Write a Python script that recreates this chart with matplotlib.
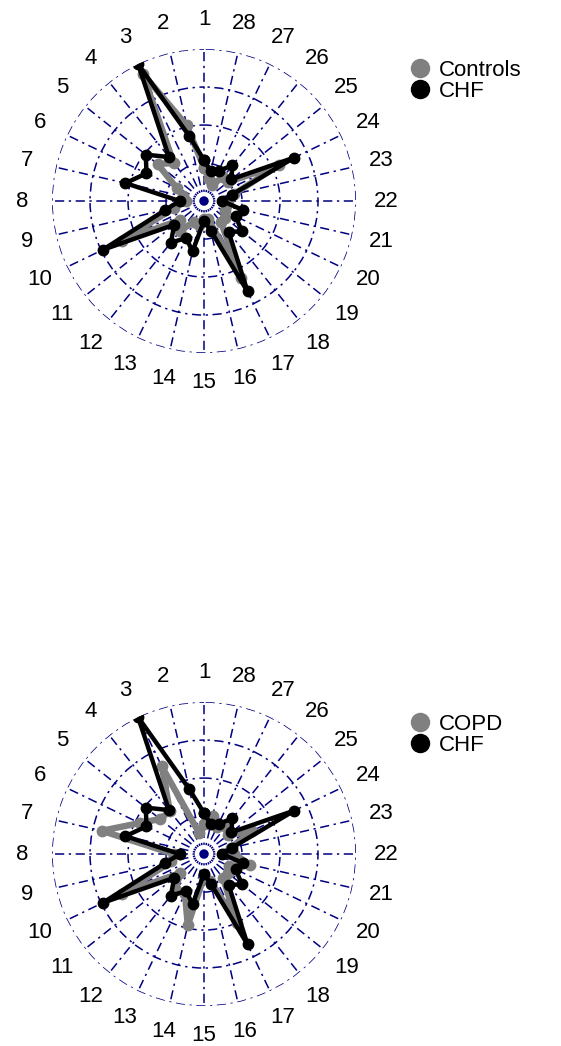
import numpy as np
import matplotlib; matplotlib.use('Agg')
import matplotlib.pyplot as plt

plt.rcParams['font.family'] = ['Liberation Sans', 'DejaVu Sans']

# ---- data ----
labels = [str(i) for i in range(1, 29)]
chf = [0.27, 0.44, 1.00, 0.37, 0.49, 0.42, 0.53, 0.16, 0.26, 0.74, 0.25, 0.35, 0.27, 0.34,
       0.13, 0.20, 0.66, 0.26, 0.32, 0.23, 0.26, 0.12, 0.19, 0.66, 0.23, 0.30, 0.22, 0.20]
controls = [0.22, 0.51, 0.93, 0.32, 0.39, 0.20, 0.14, 0.12, 0.20, 0.60, 0.20, 0.25, 0.15, 0.16,
            0.12, 0.12, 0.56, 0.18, 0.18, 0.15, 0.15, 0.16, 0.20, 0.55, 0.20, 0.20, 0.12, 0.15]
copd = [0.20, 0.14, 0.64, 0.36, 0.37, 0.47, 0.69, 0.20, 0.22, 0.60, 0.20, 0.30, 0.29, 0.48,
        0.15, 0.18, 0.50, 0.20, 0.20, 0.18, 0.31, 0.20, 0.18, 0.35, 0.20, 0.23, 0.20, 0.26]
rings = [0.25, 0.5, 0.75, 1.0]

GRID = '#000080'
DASH = (3, (6, 3, 1.5, 3))

fig = plt.figure(figsize=(5.61, 10.46), dpi=100)

def radar(rect, ref, ref_name):
    ax = fig.add_axes(rect, projection='polar')
    ax.set_theta_offset(np.pi / 2)
    n = len(labels)
    th = np.arange(n) * 2 * np.pi / n
    ax.set_ylim(0, 1)
    ax.set_rgrids(rings, labels=['']*len(rings))
    ax.set_thetagrids(np.degrees(th), labels, fontsize=16)
    ax.tick_params(axis='x', pad=11)
    ax.grid(True, color=GRID, lw=1.1, linestyle=DASH)
    ax.spines['polar'].set_visible(False)
    ax.set_axisbelow(True)
    tt = np.append(th, th[0])
    ax.plot(tt, np.append(ref, ref[0]), color='#808080', lw=4.6, marker='o', ms=7.5,
            solid_joinstyle='round', zorder=3)
    ax.plot(tt, np.append(chf, chf[0]), color='black', lw=3.2, marker='o', ms=7.5,
            solid_joinstyle='round', zorder=4)
    h1 = plt.Line2D([], [], color='#808080', marker='o', ls='none', ms=13)
    h2 = plt.Line2D([], [], color='black', marker='o', ls='none', ms=13)
    return ax, [h1, h2], [ref_name, 'CHF']

ax1, h, l = radar([0.0927, 0.6625, 0.5419, 0.2906], controls, 'Controls')
fig.legend(h, l, loc='upper left', bbox_to_anchor=(0.705, 0.953), frameon=False,
           fontsize=16, handletextpad=0.25, labelspacing=0.0, borderpad=0, handlelength=1.2)
ax2, h, l = radar([0.0927, 0.0382, 0.5419, 0.2906], copd, 'COPD')
fig.legend(h, l, loc='upper left', bbox_to_anchor=(0.705, 0.328), frameon=False,
           fontsize=16, handletextpad=0.25, labelspacing=0.0, borderpad=0, handlelength=1.2)

plt.savefig('out.png', dpi=100)
